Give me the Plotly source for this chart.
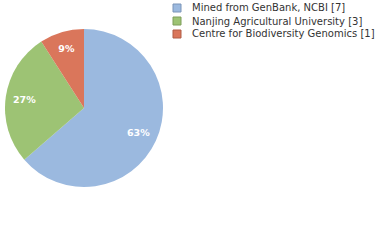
import plotly.graph_objects as go

labels = ["Mined from GenBank, NCBI [7]", "Nanjing Agricultural University [3]", "Centre for Biodiversity Genomics [1]"]
values = [7, 3, 1]
colors = ["#9BB9DF", "#9DC374", "#DA765B"]
borders = ["#7A94B8", "#7E9E5B", "#B05C46"]

total = sum(values)
texts = [f"{int(100 * v / total)}%" for v in values]

W, H = 380, 240
cx, cy, r = 84, 108, 79
dom = dict(x=[(cx - r) / W, (cx + r) / W], y=[1 - (cy + r) / H, 1 - (cy - r) / H])

fig = go.Figure()
fig.add_trace(go.Pie(
    labels=labels, values=values, textinfo="none",
    sort=False, direction="clockwise", rotation=0,
    marker=dict(colors=colors, line=dict(width=0)),
    domain=dom, hoverinfo="none", showlegend=False,
))
fig.add_trace(go.Pie(
    labels=labels, values=values, text=texts, textinfo="text", hole=0.52,
    sort=False, direction="clockwise", rotation=0,
    marker=dict(colors=["rgba(0,0,0,0)"] * len(values), line=dict(width=0)),
    textfont=dict(color="white", size=9.5, family="DejaVu Sans", weight="bold"),
    textposition="inside", insidetextorientation="horizontal",
    domain=dom, hoverinfo="none", showlegend=False,
))

# legend drawn as shapes + annotations
lx, ly0, dy, sq = 173, 8, 13, 8
for i, (lab, c, b) in enumerate(zip(labels, colors, borders)):
    yc = ly0 + i * dy
    fig.add_shape(type="rect", xref="paper", yref="paper",
                  x0=lx / W, x1=(lx + sq) / W,
                  y0=1 - (yc + sq / 2) / H, y1=1 - (yc - sq / 2) / H,
                  fillcolor=c, line=dict(color=b, width=1))
    fig.add_annotation(xref="paper", yref="paper", x=190 / W, y=1 - yc / H,
                       xanchor="left", yanchor="middle", showarrow=False,
                       text=lab, font=dict(family="DejaVu Sans", size=10, color="#333"))

fig.update_layout(
    width=W, height=H, margin=dict(l=0, r=0, t=0, b=0),
    paper_bgcolor="white", plot_bgcolor="white", showlegend=False,
)
fig.write_html("out.html")
